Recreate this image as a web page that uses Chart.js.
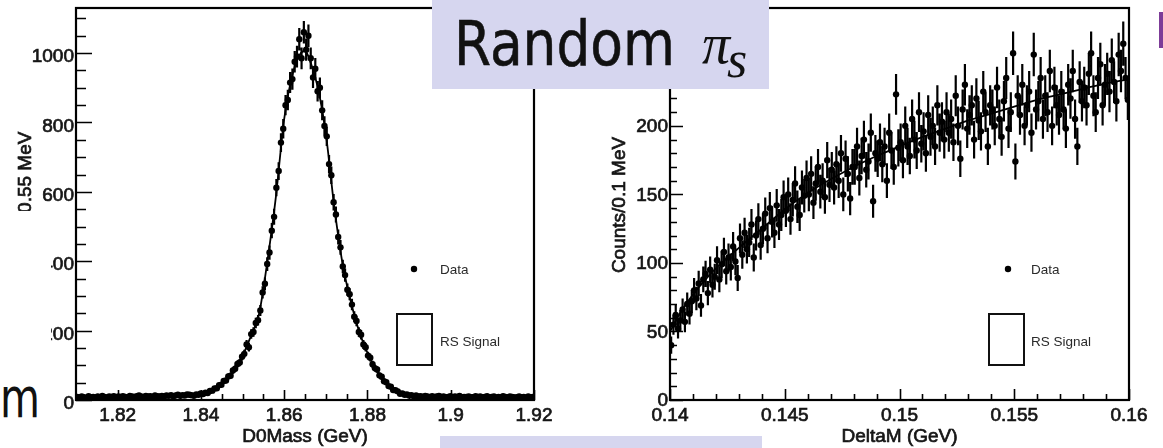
<!DOCTYPE html>
<html><head><meta charset="utf-8">
<script src="https://cdn.jsdelivr.net/npm/chart.js@4.4.1/dist/chart.umd.min.js"></script>
<style>
html,body{margin:0;padding:0;background:#fff;width:1163px;height:448px;overflow:hidden;position:relative}
canvas{position:absolute;left:0;top:0}
svg{position:absolute;left:0;top:0;pointer-events:none}
</style></head>
<body>
<canvas id="c1" width="1163" height="448"></canvas>
<canvas id="c2" width="1163" height="448"></canvas>
<svg width="1163" height="448" viewBox="0 0 1163 448">
  <rect x="0" y="211" width="51" height="237" fill="#ffffff"/>
  <text x="0" y="417" font-family="DejaVu Sans" font-size="55" fill="#111" textLength="40" lengthAdjust="spacingAndGlyphs">m</text>
  <rect x="432" y="0" width="337" height="89" fill="#d6d6ef"/>
  <text x="454" y="65" font-family="DejaVu Sans" font-size="63" fill="#111" stroke="#111" stroke-width="0.6" textLength="221" lengthAdjust="spacingAndGlyphs">Random</text>
  <text x="702" y="63" font-family="Liberation Serif" font-style="italic" font-size="56" fill="#111">π</text>
  <text x="727" y="77" font-family="Liberation Serif" font-style="italic" font-size="52" fill="#111">s</text>
  <rect x="440" y="436" width="322" height="12" fill="#d6d6ef"/>
  <rect x="1159" y="12" width="4" height="36" fill="#7d3c98"/>
</svg>
<script>
// ---------- D0 mass histogram (left) ----------
const d0BinLow = 1.81;
const d0BinWidth = 0.00055;
const d0MassCounts = [
9,7,10,8,6,11,8,9,7,10,
8,12,9,7,10,9,11,8,10,9,
11,9,8,12,10,9,11,13,10,9,
12,10,11,9,13,11,10,12,11,13,
12,14,11,13,15,12,14,13,16,15,
14,12,16,15,19,17,21,20,26,27,
33,34,43,44,55,56,68,70,85,90,
104,108,125,133,160,152,190,196,222,230,
258,310,335,392,425,488,528,612,660,742,
782,850,865,915,925,975,990,1040,985,1060,
1010,1050,985,930,955,890,900,835,790,760,
680,648,570,535,470,440,385,360,318,305,
275,240,228,196,188,160,152,128,122,103,
92,88,71,67,54,51,40,38,29,28,
25,18,19,15,16,13,14,11,13,10,
11,9,12,10,8,11,9,10,12,9,
10,8,9,11,7,10,9,12,8,9,
9,10,8,7,11,9,10,8,9,11,
8,9,10,7,9,8,11,9,8,10,
9,7,8,10,8,9,7,10,8,9];
const d0FitMass = [1.810,1.820,1.830,1.835,1.838,1.840,1.842,1.844,1.846,1.848,1.850,1.852,1.854,1.856,1.858,1.860,1.862,1.864,1.865,1.866,1.868,1.870,1.872,1.874,1.876,1.878,1.880,1.882,1.884,1.886,1.888,1.890,1.895,1.900,1.910,1.920];
const d0FitCounts = [8,8,9,11,14,17,24,38,58,88,127,184,250,403,585,810,938,1000,1006,985,905,768,560,394,284,198,136,90,56,32,19,14,11,10,9,8];
const d0XTicks = [1.82,1.84,1.86,1.88,1.9,1.92];
const d0XTickLabels = ['1.82','1.84','1.86','1.88','1.9','1.92'];
const d0YTicks = [0,200,400,600,800,1000];
const d0YTickLabels = ['0','200','400','600','800','1000'];

// ---------- DeltaM histogram (right) ----------
const dmBinLow = 0.14;
const dmBinWidth = 0.0001;
const deltaMCounts = [
40,55,62,52,58,66,57,70,63,72,
80,74,85,69,88,92,78,95,84,90,
102,88,99,108,94,104,97,112,101,89,
118,106,122,110,115,128,104,120,132,113,
125,136,118,140,130,122,142,128,135,148,
138,150,132,146,158,141,135,155,149,162,
150,165,144,158,170,152,160,148,175,157,
168,155,172,160,180,150,176,165,147,170,
170,185,162,178,190,168,174,195,145,180,
176,188,172,185,160,195,182,170,223,184,
188,175,200,185,178,205,190,182,210,187,
196,180,208,192,200,185,215,195,203,190,
210,195,205,188,222,200,176,212,230,198,
208,215,190,220,204,196,225,210,185,215,
212,200,228,205,192,218,235,198,210,253,
174,222,208,230,200,215,225,195,252,212,
218,235,205,222,210,240,200,228,215,208,
225,212,198,230,220,240,205,185,232,218,
228,215,238,253,222,210,235,245,215,230,
238,225,248,232,218,252,240,260,235,219];
const dmFitX = [0.1400,0.1405,0.1410,0.1415,0.1420,0.1430,0.1440,0.1450,0.1460,0.1470,0.1480,0.1490,0.1500,0.1510,0.1520,0.1530,0.1540,0.1550,0.1560,0.1570,0.1580,0.1590,0.1600];
const dmFitY = [50,65,77,87,96,111,125,139,151,161,170,178,185,192,198,204,209,214,219,223,227,231,234];
const dmXTicks = [0.14,0.145,0.15,0.155,0.16];
const dmXTickLabels = ['0.14','0.145','0.15','0.155','0.16'];
const dmYTicks = [0,50,100,150,200];
const dmYTickLabels = ['0','50','100','150','200'];

const legendLabels = ['Data','RS Signal'];

function boldText(ctx, txt, x, y){
  ctx.strokeText(txt, x, y);
  ctx.fillText(txt, x, y);
}

function makeRootPlugin(s){
  return {
    id: 'rootStyle',
    beforeDatasetsDraw(chart){
      const {ctx, scales:{x,y}} = chart;
      ctx.save();
      ctx.strokeStyle = '#000';
      ctx.lineWidth = 2.2;
      ctx.beginPath();
      s.counts.forEach((v,i)=>{
        const xv = s.binLow + (i+0.5)*s.binWidth;
        const px = x.getPixelForValue(xv);
        const py = y.getPixelForValue(v);
        const e = Math.sqrt(v); // Poisson error bar
        ctx.moveTo(px, y.getPixelForValue(v+e));
        ctx.lineTo(px, y.getPixelForValue(Math.max(v-e,0)));
        ctx.moveTo(x.getPixelForValue(xv - s.binWidth/2), py);
        ctx.lineTo(x.getPixelForValue(xv + s.binWidth/2), py);
      });
      ctx.stroke();
      ctx.restore();
    },
    afterDraw(chart){
      const {ctx, chartArea:a, scales:{x,y}} = chart;
      ctx.save();
      ctx.strokeStyle = '#000';
      ctx.lineWidth = 1.6;
      ctx.beginPath();
      const nx = Math.round((s.xMax - s.xMin)/s.xMinor);
      for(let k=0;k<=nx;k++){
        const v = s.xMin + k*s.xMinor;
        const major = s.xTicks.some(t=>Math.abs(t-v) < s.xMinor*0.01);
        const px = Math.round(x.getPixelForValue(v))+0.5;
        ctx.moveTo(px, a.bottom);
        ctx.lineTo(px, a.bottom - (major ? s.xMajorLen : s.xMinorLen));
      }
      const ny = Math.floor((s.yMax - s.yMin)/s.yMinor + 1e-9);
      for(let k=0;k<=ny;k++){
        const v = s.yMin + k*s.yMinor;
        const major = s.yTicks.some(t=>Math.abs(t-v) < s.yMinor*0.01);
        const py = Math.round(y.getPixelForValue(v))+0.5;
        ctx.moveTo(a.left, py);
        ctx.lineTo(a.left + (major ? s.yMajorLen : s.yMinorLen), py);
      }
      ctx.stroke();
      ctx.lineWidth = 2.2;
      ctx.strokeRect(a.left, a.top, a.right - a.left, a.bottom - a.top);

      ctx.fillStyle = '#151515';
      ctx.strokeStyle = '#151515';
      ctx.lineWidth = 0.7;
      ctx.font = '19px "Liberation Sans", Arial, sans-serif';
      ctx.textAlign = 'center';
      ctx.textBaseline = 'middle';
      s.xTicks.forEach((t,i)=> boldText(ctx, s.xTickLabels[i], x.getPixelForValue(t), a.bottom + 16));
      ctx.textAlign = 'right';
      s.yTicks.forEach((t,i)=> boldText(ctx, s.yTickLabels[i], a.left - 2, y.getPixelForValue(t) + s.yLabelDy));
      ctx.textAlign = 'center';
      boldText(ctx, s.xTitle, (a.left + a.right)/2, a.bottom + 37);
      ctx.save();
      ctx.translate(a.left - 50, (a.top + a.bottom)/2 + 1);
      ctx.rotate(-Math.PI/2);
      boldText(ctx, s.yTitle, 0, 0);
      ctx.restore();

      // legend
      ctx.fillStyle = '#000';
      ctx.beginPath();
      ctx.arc(a.left + 338, a.top + 261, 3.2, 0, Math.PI*2);
      ctx.fill();
      ctx.lineWidth = 2;
      ctx.strokeStyle = '#111';
      ctx.strokeRect(a.left + s.legRect, a.top + 306, 35, 51);
      ctx.fillStyle = '#2a2a2a';
      ctx.font = '13.5px "Liberation Sans", Arial, sans-serif';
      ctx.textAlign = 'left';
      ctx.fillText(legendLabels[0], a.left + s.legText, a.top + 262);
      ctx.fillText(legendLabels[1], a.left + s.legText, a.top + 334);
      ctx.restore();
    }
  };
}

function makeChart(id, s){
  const pts = s.counts.map((v,i)=>({x: s.binLow + (i+0.5)*s.binWidth, y: v}));
  const fit = s.fitX.map((xv,i)=>({x: xv, y: s.fitY[i]}));
  return new Chart(document.getElementById(id), {
    type: 'scatter',
    data: {
      datasets: [
        {label: 'Fit', data: fit, showLine: true, pointRadius: 0, borderColor: '#000', borderWidth: 1.8, cubicInterpolationMode: 'monotone', fill: false, order: 0},
        {label: 'Data', data: pts, pointRadius: 3.2, pointBackgroundColor: '#000', pointBorderWidth: 0, order: 1}
      ]
    },
    options: {
      responsive: false,
      animation: false,
      devicePixelRatio: 1,
      layout: {padding: s.padding},
      plugins: {legend: {display: false}, tooltip: {enabled: false}},
      scales: {
        x: {type: 'linear', min: s.xMin, max: s.xMax, display: false},
        y: {type: 'linear', min: s.yMin, max: s.yMax, display: false}
      }
    },
    plugins: [makeRootPlugin(s)]
  });
}

makeChart('c1', {
  counts: d0MassCounts, binLow: d0BinLow, binWidth: d0BinWidth,
  fitX: d0FitMass, fitY: d0FitCounts,
  xMin: 1.81, xMax: 1.92, yMin: 0, yMax: 1130,
  xTicks: d0XTicks, xTickLabels: d0XTickLabels, xMinor: 0.005,
  yTicks: d0YTicks, yTickLabels: d0YTickLabels, yMinor: 50,
  xMajorLen: 10, xMinorLen: 6, yMajorLen: 16, yMinorLen: 10, yLabelDy: 4,
  xTitle: 'D0Mass (GeV)', yTitle: 'Counts/0.55 MeV',
  legRect: 321, legText: 364,
  padding: {left: 76, top: 8, right: 1163 - 534, bottom: 48}
});

makeChart('c2', {
  counts: deltaMCounts, binLow: dmBinLow, binWidth: dmBinWidth,
  fitX: dmFitX, fitY: dmFitY,
  xMin: 0.14, xMax: 0.16, yMin: 0, yMax: 286,
  xTicks: dmXTicks, xTickLabels: dmXTickLabels, xMinor: 0.001,
  yTicks: dmYTicks, yTickLabels: dmYTickLabels, yMinor: 10,
  xMajorLen: 11, xMinorLen: 6, yMajorLen: 13, yMinorLen: 7, yLabelDy: 1,
  xTitle: 'DeltaM (GeV)', yTitle: 'Counts/0.1 MeV',
  legRect: 319, legText: 361,
  padding: {left: 670, top: 8, right: 1163 - 1129, bottom: 48}
});
</script>
</body></html>
